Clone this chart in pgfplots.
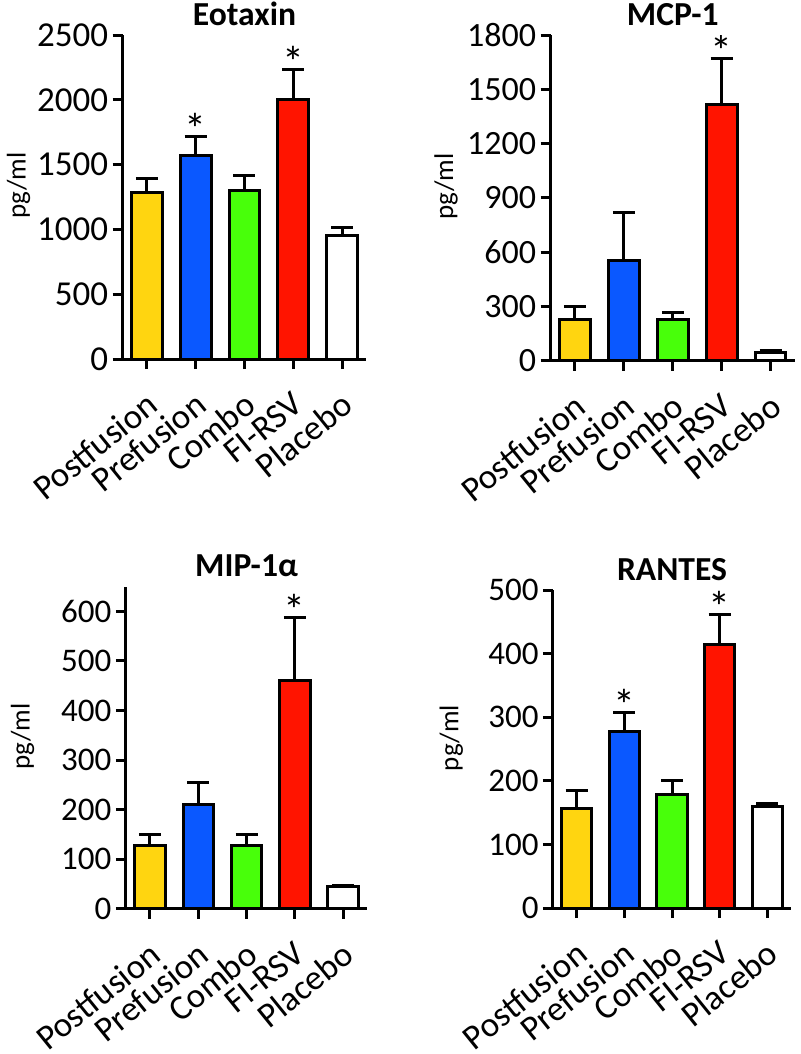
\documentclass[border=0pt]{standalone}
\usepackage{fontspec}
\setmainfont{Carlito}
\usepackage{pgfplots}
\pgfplotsset{compat=1.18}
\definecolor{cYel}{HTML}{FFD510}
\definecolor{cBlu}{HTML}{0A58FF}
\definecolor{cGrn}{HTML}{48FF0A}
\definecolor{cRed}{HTML}{FF1400}

\pgfplotsset{
  every axis title shift=0pt,
  gp/.style={
    scale only axis, axis lines=left,
    axis line style={-, line width=1.5pt},
    ybar, bar width=0.63,
    xmin=-0.5, xmax=4.5, ymin=0,
    xtick={0,...,4},
    xticklabels={Postfusion,Prefusion,Combo,FI-RSV,Placebo},
    xticklabel style={xshift=-1pt, yshift=-9pt, rotate=39, anchor=north east, inner sep=1pt,
      font=\fontsize{17.5}{17.5}\selectfont},
    yticklabel style={inner sep=2pt, font=\fontsize{#1}{#1}\selectfont},
    tick align=outside, major tick length=5pt,
    tick style={line width=1.5pt, black},
    /pgf/number format/assume math mode=true,
    /pgf/number format/1000 sep={}, scaled y ticks=false,
    ylabel={pg/ml},
    ylabel style={at={(axis description cs:-0.427,0.535)}, anchor=center,
      font=\fontsize{13.5}{13.5}\selectfont},
    title style={at={(axis description cs:0.5,1.03)}, anchor=base,
      font=\bfseries\fontsize{16.8}{16.8}\selectfont},
    error bars/y dir=plus, error bars/y explicit,
    error bars/error bar style={line width=1.5pt, black},
    error bars/error mark options={rotate=90, mark size=5.5pt, line width=1.5pt, black},
  },
  b/.style={draw=black, line width=1.5pt, fill=#1, bar shift=0pt},
}
\tikzset{astx/.style={font=\fontsize{22}{22}\selectfont, anchor=base, inner sep=0pt, yshift=-4pt}}

\begin{document}
\begin{tikzpicture}
\useasboundingbox (0,0) rectangle (400pt,-527pt);

% Eotaxin
\begin{axis}[gp=17.5, at={(61.3pt,-179.5pt)}, anchor=south west,
  width=121.9pt, height=162pt, ymax=2500, ytick={0,500,...,2500},
  title={Eotaxin}]
\addplot[b=cYel] coordinates {(0,1286) +- (0,103)};
\addplot[b=cBlu] coordinates {(1,1569) +- (0,146)};
\addplot[b=cGrn] coordinates {(2,1299) +- (0,115)};
\addplot[b=cRed] coordinates {(3,2004) +- (0,226)};
\addplot[b=white] coordinates {(4,951) +- (0,65)};
\node[astx] at (axis cs:1,1715) {*};
\node[astx] at (axis cs:3,2230) {*};
\end{axis}

% MCP-1
\begin{axis}[gp=17, at={(275.25pt,-180.35pt)}, anchor=south west,
  width=122.25pt, height=162.85pt, ymax=1800, ytick={0,300,...,1800},
  title={MCP-1}]
\addplot[b=cYel] coordinates {(0,229) +- (0,69)};
\addplot[b=cBlu] coordinates {(1,556) +- (0,264)};
\addplot[b=cGrn] coordinates {(2,229) +- (0,38)};
\addplot[b=cRed] coordinates {(3,1417) +- (0,252)};
\addplot[b=white] coordinates {(4,46) +- (0,8)};
\node[astx] at (axis cs:3,1669) {*};
\end{axis}

% MIP-1alpha
\begin{axis}[gp=16.5, at={(62.9pt,-454.4pt)}, anchor=south west,
  width=120.75pt, height=161.15pt, ymax=650, ytick={0,100,...,600},
  title={MIP-1α}]
\addplot[b=cYel] coordinates {(0,128) +- (0,22)};
\addplot[b=cBlu] coordinates {(1,210) +- (0,44)};
\addplot[b=cGrn] coordinates {(2,128) +- (0,22)};
\addplot[b=cRed] coordinates {(3,461) +- (0,126)};
\addplot[b=white] coordinates {(4,46) +- (0,1)};
\node[astx] at (axis cs:3,587) {*};
\end{axis}

% RANTES
\begin{axis}[gp=16.5, at={(276.45pt,-454.05pt)}, anchor=south west,
  width=119.1pt, height=159pt, ymax=500, ytick={0,100,...,500},
  title={RANTES}]
\addplot[b=cYel] coordinates {(0,157) +- (0,28)};
\addplot[b=cBlu] coordinates {(1,278) +- (0,30)};
\addplot[b=cGrn] coordinates {(2,178) +- (0,22)};
\addplot[b=cRed] coordinates {(3,415) +- (0,46)};
\addplot[b=white] coordinates {(4,160) +- (0,5)};
\node[astx] at (axis cs:1,308) {*};
\node[astx] at (axis cs:3,461) {*};
\end{axis}
\end{tikzpicture}
\end{document}
